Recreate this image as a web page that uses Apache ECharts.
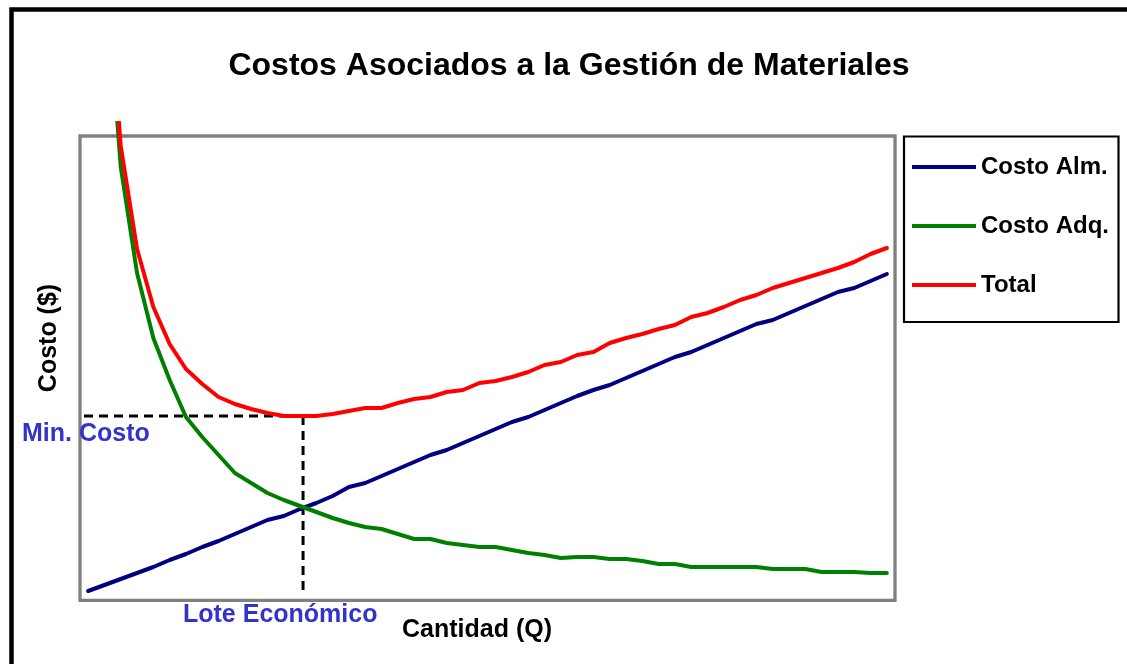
<!DOCTYPE html>
<html><head><meta charset="utf-8">
<script src="https://cdn.jsdelivr.net/npm/echarts@6/dist/echarts.min.js"></script>
<style>html,body{margin:0;padding:0;background:#fff}#c{width:1127px;height:664px}</style>
</head><body><div id="c"></div>
<script>
const categories = ['1','2','3','4','5','6','7','8','9','10','11','12','13','14','15','16','17','18','19','20','21','22','23','24','25','26','27','28','29','30','31','32','33','34','35','36','37','38','39','40','41','42','43','44','45','46','47','48','49','50'];
const costoAlm = [9,15,21,27,33,40,46,53,59,66, 73,80,84,91,97,104,113,117,124,131, 138,145,150,157,164,171,178,183,190,197, 204,210,215,222,229,236,243,248,255,262, 269,276,280,287,294,301,308,312,319,326];
const costoAdq = [1300,650,433,327,262,220,183,163,145,127, 117,107,100,94,88,82,77,73,71,66, 61,61,57,55,53,53,50,47,45,42, 43,43,41,41,39,36,36,33,33,33, 33,33,31,31,31,28,28,28,27,27];
const total = [1309,665,454,351,293,256,231,216,203,196, 191,187,184,184,184,186,189,192,192,197, 201,203,208,210,217,219,223,228,235,238, 245,248,257,262,266,271,275,283,287,293, 300,305,312,317,322,327,332,338,346,352];
const seriesNames = ['Costo Alm.', 'Costo Adq.', 'Total'];
const seriesColors = ['#000080', '#008000', '#FF0000'];
const titleText = 'Costos Asociados a la Gestión de Materiales';
const yName = 'Costo ($)';
const xName = 'Cantidad (Q)';
const minLabel = 'Min. Costo';
const loteLabel = 'Lote Económico';

const FONT = "'Liberation Sans', Arial, sans-serif";
const chart = echarts.init(document.getElementById('c'), null, {renderer: 'canvas'});
const seriesData = [costoAlm, costoAdq, total];

chart.setOption({
  animation: false,
  backgroundColor: '#ffffff',
  title: {
    text: titleText, left: 569, top: 50, textAlign: 'center', padding: 0,
    textStyle: {fontFamily: FONT, fontSize: 32, fontWeight: 'bold', color: '#000', lineHeight: 32}
  },
  legend: {
    orient: 'vertical', left: 912, top: 155, padding: 0,
    itemWidth: 64, itemHeight: 4, itemGap: 35, icon: 'rect', selectedMode: false,
    textStyle: {fontFamily: FONT, fontSize: 24, fontWeight: 'bold', color: '#000', lineHeight: 24},
    data: seriesNames
  },
  grid: {left: 80, right: 232, top: 123, bottom: 64},
  xAxis: {type: 'category', data: categories, boundaryGap: true, show: false},
  yAxis: {type: 'value', min: 0, max: 477, show: false},
  series: seriesNames.map((n, k) => ({
    name: n, type: 'line', data: seriesData[k], symbol: 'none', smooth: false,
    color: seriesColors[k], z: 2 + k,
    lineStyle: {width: 4, color: seriesColors[k], cap: 'round', join: 'round'}
  }))
});

// economic lot: where holding cost meets ordering cost
let idx = 0, best = Infinity;
for (let i = 0; i < costoAlm.length; i++) {
  const d = Math.abs(costoAlm[i] - costoAdq[i]);
  if (d < best) { best = d; idx = i; }
}
const p = chart.convertToPixel({seriesIndex: 2}, [idx, total[idx]]);
const p0 = chart.convertToPixel({seriesIndex: 2}, [0, 0]);
const p1 = chart.convertToPixel({seriesIndex: 2}, [1, 0]);
const band = p1[0] - p0[0];
const gridLeft = p0[0] - band / 2;
const gridBottom = p0[1];

function txt(id, x, y, text, size, color, align, extra) {
  return Object.assign({
    type: 'text', id: id, x: x, y: y, z: 10,
    style: {text: text, fill: color, font: 'bold ' + size + 'px ' + FONT,
      fontFamily: FONT, fontSize: size, fontWeight: 'bold',
      align: align, textAlign: align, verticalAlign: 'middle', textVerticalAlign: 'middle'}
  }, extra || {});
}

chart.setOption({
  graphic: [
    {type: 'rect', id: 'frame', z: 0, shape: {x: 11.5, y: 9.5, width: 1300, height: 800},
      style: {fill: 'none', stroke: '#000', lineWidth: 4.5}},
    {type: 'rect', id: 'plotBorder', z: 0, shape: {x: 80, y: 136, width: 815, height: 464.3},
      style: {fill: 'none', stroke: '#808080', lineWidth: 3.3}},
    {type: 'rect', id: 'legendBox', z: 0, shape: {x: 904, y: 136.5, width: 214.5, height: 185.5},
      style: {fill: 'none', stroke: '#000', lineWidth: 2.2}},
    {type: 'line', id: 'hDash', z: 1, shape: {x1: gridLeft + 4, y1: p[1], x2: p[0] + 3, y2: p[1]},
      style: {stroke: '#000', lineWidth: 3, lineDash: [9, 6]}},
    {type: 'line', id: 'vDash', z: 1, shape: {x1: p[0] + 3, y1: p[1], x2: p[0] + 3, y2: gridBottom - 7},
      style: {stroke: '#000', lineWidth: 3, lineDash: [9, 6]}},
    txt('yName', 49, 338, yName, 25, '#000', 'center', {rotation: Math.PI / 2}),
    txt('xName', 477, 630, xName, 25, '#000', 'center'),
    txt('minLbl', 22, 434, minLabel, 25, '#3333CC', 'left'),
    txt('loteLbl', 183, 615, loteLabel, 25, '#3333CC', 'left')
  ]
});
</script>
</body></html>
